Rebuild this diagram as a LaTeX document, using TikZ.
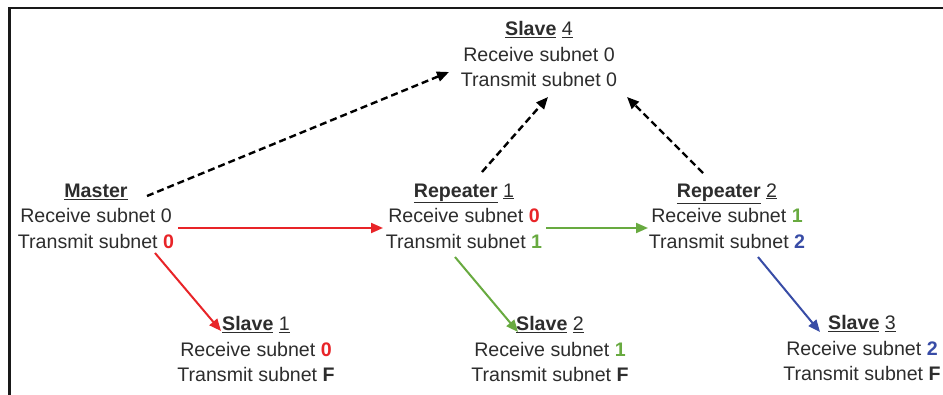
\documentclass[tikz,border=0pt]{standalone}
\usepackage{fontspec}
\setmainfont{Liberation Sans}
\usetikzlibrary{arrows.meta}
\definecolor{txt}{RGB}{45,45,45}
\definecolor{myred}{RGB}{232,36,40}
\definecolor{mygreen}{RGB}{104,170,64}
\definecolor{myblue}{RGB}{56,76,166}
\newcommand{\ttl}[2]{\underline{\textbf{#1}}~\underline{#2}}
\newcommand{\num}[2]{\textcolor{#1}{\textbf{#2}}}
\begin{document}
\begin{tikzpicture}[x=1pt,y=-1pt,
  block/.style={align=center,inner sep=0pt,text=txt,font=\fontsize{19.6}{25.5}\selectfont},
  tip/.style={-{Triangle[length=12pt,width=10pt]}},
  dasharrow/.style={tip,black,line width=2.4pt,dash pattern=on 7pt off 4pt},
  redarrow/.style={tip,myred,line width=2pt},
  greenarrow/.style={tip,mygreen,line width=2pt},
  bluearrow/.style={tip,myblue,line width=2pt}]
\useasboundingbox (0,0) rectangle (943,395);
\fill[white] (0,0) rectangle (943,395);
\draw[line width=2.7pt,black!90] (9.6,395) coordinate (bl) -- (9.6,8) coordinate (tl) -- (943,8) coordinate (tr);

\node[block] (s4) at (539,54) {\ttl{Slave}{4}\\Receive subnet 0\\Transmit subnet 0};
\node[block] (m) at (96,216) {\underline{\textbf{Master}}\\Receive subnet 0\\Transmit subnet \num{myred}{0}};
\node[block] (r1) at (464,216) {\ttl{Repeater}{1}\\Receive subnet \num{myred}{0}\\Transmit subnet \num{mygreen}{1}};
\node[block] (r2) at (727,216) {\ttl{Repeater}{2}\\Receive subnet \num{mygreen}{1}\\Transmit subnet \num{myblue}{2}};
\node[block] (s1) at (256,349) {\ttl{Slave}{1}\\Receive subnet \num{myred}{0}\\Transmit subnet \textbf{F}};
\node[block] (s2) at (550,349) {\ttl{Slave}{2}\\Receive subnet \num{mygreen}{1}\\Transmit subnet \textbf{F}};
\node[block] (s3) at (862,348) {\ttl{Slave}{3}\\Receive subnet \num{myblue}{2}\\Transmit subnet \textbf{F}};

\draw[dasharrow] ([shift={(51,-20)}]m.center) -- ([shift={(-90,18)}]s4.center);
\draw[dasharrow] ([shift={(18,-44)}]r1.center) -- ([shift={(9,43)}]s4.center);
\draw[dasharrow] ([shift={(-24,-43)}]r2.center) -- ([shift={(88,43)}]s4.center);

\draw[redarrow] ([shift={(82,12)}]m.center) -- ([shift={(-81,12)}]r1.center);
\draw[redarrow] ([shift={(59,37)}]m.center) -- ([shift={(-35,-18)}]s1.center);
\draw[greenarrow] ([shift={(82,12)}]r1.center) -- ([shift={(-79,12)}]r2.center);
\draw[greenarrow] ([shift={(-9,41)}]r1.center) -- ([shift={(-32,-17)}]s2.center);
\draw[bluearrow] ([shift={(31,41)}]r2.center) -- ([shift={(-42,-16)}]s3.center);
\end{tikzpicture}
\end{document}
